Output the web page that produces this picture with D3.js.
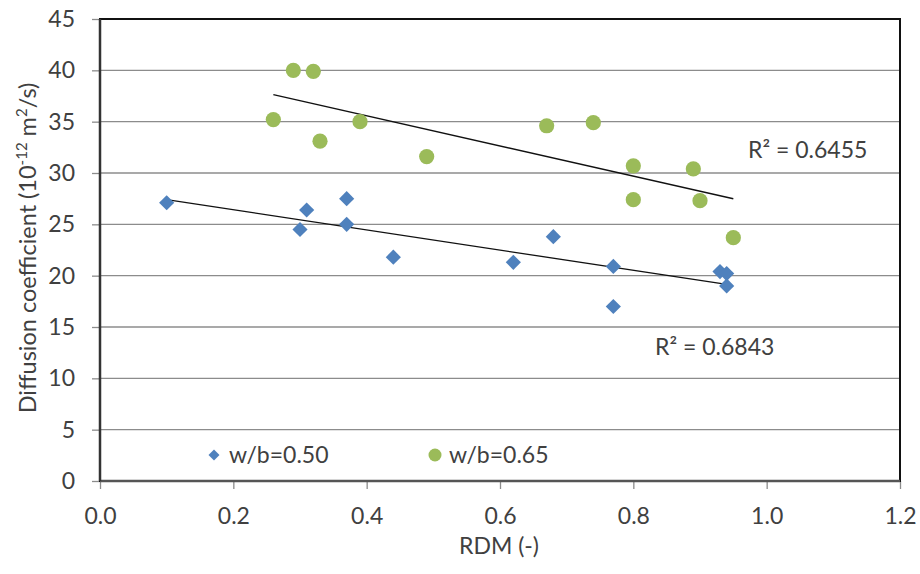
<!DOCTYPE html>
<html><head><meta charset="utf-8">
<script src="https://cdn.jsdelivr.net/npm/d3@7"></script>
<style>body{margin:0;background:#fff}svg{display:block}text{font-family:Lato,"Open Sans",sans-serif;fill:#404040}</style>
</head><body><svg id="c" width="920" height="574"></svg>
<script>
const seriesNames = ["w/b=0.50", "w/b=0.65"];
const rdm050 = [0.10, 0.30, 0.31, 0.37, 0.37, 0.44, 0.62, 0.68, 0.77, 0.77, 0.93, 0.94, 0.94];
const dif050 = [27.1, 24.5, 26.4, 27.5, 25.0, 21.8, 21.3, 23.8, 20.9, 17.0, 20.4, 20.2, 19.0];
const rdm065 = [0.26, 0.29, 0.32, 0.33, 0.39, 0.49, 0.67, 0.74, 0.80, 0.80, 0.89, 0.90, 0.95];
const dif065 = [35.2, 40.0, 39.9, 33.1, 35.0, 31.6, 34.6, 34.9, 30.7, 27.4, 30.4, 27.3, 23.7];
const r2Labels = ["R² = 0.6843", "R² = 0.6455"];
const xTicks = [0, 0.2, 0.4, 0.6, 0.8, 1.0, 1.2];
const yTicks = [0, 5, 10, 15, 20, 25, 30, 35, 40, 45];
const colors = ["#4F81BD", "#9BBB59"];

const svg = d3.select("#c");
const m = {l:100, r:900, t:19, b:481};
const x = d3.scaleLinear().domain([0, 1.2]).range([m.l, m.r]);
const y = d3.scaleLinear().domain([0, 45]).range([m.b, m.t]);

// gridlines
svg.append("g").selectAll("line").data(yTicks.slice(1)).join("line")
  .attr("x1", m.l).attr("x2", m.r).attr("y1", d=>y(d)).attr("y2", d=>y(d))
  .attr("stroke", "#8c8c8c").attr("stroke-width", 1.3);

// axes
const yAxis = d3.axisLeft(y).tickValues(yTicks).tickSize(8).tickPadding(17).tickFormat(d3.format("d"));
const gy = svg.append("g").attr("transform", `translate(${m.l},0)`).call(yAxis);
const xAxis = d3.axisBottom(x).tickValues(xTicks).tickSize(8).tickPadding(19).tickFormat(d3.format(".1f"));
const gx = svg.append("g").attr("transform", `translate(0,${m.b})`).call(xAxis);
[gx, gy].forEach(g => {
  g.select(".domain").remove();
  g.selectAll(".tick line").attr("stroke", "#8c8c8c").attr("stroke-width", 1.3);
  g.selectAll(".tick text").style("font-size", "23px").attr("fill", "#404040");
});

// frame
svg.append("rect").attr("x", m.l).attr("y", m.t).attr("width", m.r - m.l).attr("height", m.b - m.t)
  .attr("fill", "none").attr("stroke", "#111").attr("stroke-width", 2);
svg.append("line").attr("x1", m.l).attr("x2", m.r).attr("y1", m.b).attr("y2", m.b)
  .attr("stroke", "#555").attr("stroke-width", 2.5);
svg.append("line").attr("x1", m.l).attr("x2", m.l).attr("y1", m.t).attr("y2", m.b)
  .attr("stroke", "#333").attr("stroke-width", 2.5);

// trendlines (least squares)
function fit(xs, ys) {
  const n = xs.length, mx = d3.mean(xs), my = d3.mean(ys);
  let sxy = 0, sxx = 0;
  for (let i = 0; i < n; i++) { sxy += (xs[i]-mx)*(ys[i]-my); sxx += (xs[i]-mx)**2; }
  const b = sxy / sxx, a = my - b * mx;
  return [[d3.min(xs), a + b*d3.min(xs)], [d3.max(xs), a + b*d3.max(xs)]];
}
const line = d3.line().x(d=>x(d[0])).y(d=>y(d[1]));
[[rdm050, dif050], [rdm065, dif065]].forEach(([xs, ys]) => {
  svg.append("path").attr("d", line(fit(xs, ys))).attr("stroke", "#111").attr("stroke-width", 1.3).attr("fill", "none");
});

// points
const d050 = rdm050.map((v,i)=>[v, dif050[i]]);
const d065 = rdm065.map((v,i)=>[v, dif065[i]]);
const diamond = d3.symbol().type(d3.symbolSquare).size(115);
svg.append("g").selectAll("path").data(d050).join("path")
  .attr("d", diamond).attr("transform", d=>`translate(${x(d[0])},${y(d[1])}) rotate(45)`)
  .attr("fill", colors[0]);
svg.append("g").selectAll("circle").data(d065).join("circle")
  .attr("cx", d=>x(d[0])).attr("cy", d=>y(d[1])).attr("r", 7.6).attr("fill", colors[1]);

// R2 labels
svg.append("text").attr("x", 655).attr("y", 355).style("font-size", "23px").text(r2Labels[0]);
svg.append("text").attr("x", 748).attr("y", 158).style("font-size", "23px").text(r2Labels[1]);

// legend
const lg = svg.append("g");
lg.append("path").attr("d", d3.symbol().type(d3.symbolSquare).size(60)).attr("transform", "translate(214,455) rotate(45)").attr("fill", colors[0]);
lg.append("text").attr("x", 229).attr("y", 463).style("font-size", "23px").text(seriesNames[0]);
lg.append("circle").attr("cx", 435).attr("cy", 455).attr("r", 6.5).attr("fill", colors[1]);
lg.append("text").attr("x", 449).attr("y", 463).style("font-size", "23px").text(seriesNames[1]);

// axis titles
svg.append("text").attr("x", 499).attr("y", 554).attr("text-anchor", "middle").style("font-size", "23px").text("RDM (-)");
const yt = svg.append("text").attr("transform", "translate(36,248) rotate(-90)").attr("text-anchor", "middle").style("font-size", "23.5px");
yt.append("tspan").text("Diffusion coefficient (10");
yt.append("tspan").attr("dy", -9).style("font-size", "15px").text("-12");
yt.append("tspan").attr("dy", 9).text(" m");
yt.append("tspan").attr("dy", -9).style("font-size", "15px").text("2");
yt.append("tspan").attr("dy", 9).text("/s)");
</script></body></html>
